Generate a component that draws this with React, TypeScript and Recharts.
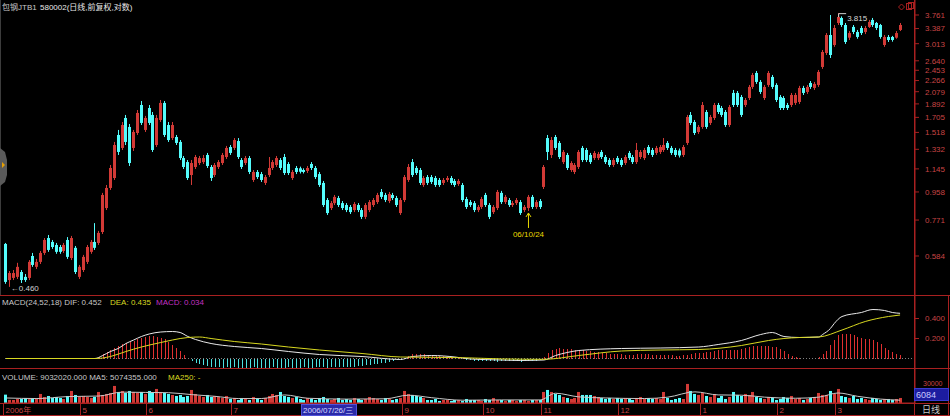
import { Bar, ComposedChart, Line, ReferenceDot, ReferenceLine, XAxis, YAxis } from "recharts";

const FONT = '"Liberation Sans", Arial, "Noto Sans CJK SC", sans-serif';
const UP = "#d23a36";
const DOWN = "#54fcfc";
const FRAME = "#a82020";
const AXIS_TEXT = "#c84444";

// daily candles [open, high, low, close], 前复权
const CANDLES: [number, number, number, number][] = [
    [0.641, 0.646, 0.471, 0.478], [0.485, 0.52, 0.46, 0.512], [0.493, 0.524, 0.485, 0.512], [0.497, 0.554, 0.489, 0.537],
    [0.516, 0.524, 0.474, 0.485], [0.497, 0.508, 0.478, 0.485], [0.493, 0.566, 0.485, 0.558], [0.584, 0.598, 0.537, 0.545],
    [0.537, 0.571, 0.528, 0.558], [0.558, 0.607, 0.549, 0.598], [0.598, 0.671, 0.589, 0.661], [0.671, 0.687, 0.603, 0.612],
    [0.651, 0.661, 0.617, 0.626], [0.636, 0.646, 0.594, 0.603], [0.626, 0.636, 0.594, 0.603], [0.607, 0.646, 0.598, 0.636],
    [0.661, 0.676, 0.571, 0.58], [0.575, 0.682, 0.566, 0.671], [0.622, 0.631, 0.508, 0.516], [0.497, 0.545, 0.489, 0.537],
    [0.524, 0.589, 0.516, 0.58], [0.558, 0.636, 0.549, 0.626], [0.603, 0.661, 0.594, 0.651], [0.651, 0.753, 0.612, 0.622],
    [0.646, 0.709, 0.636, 0.698], [0.703, 0.951, 0.692, 0.936], [0.846, 1.011, 0.833, 0.988], [0.988, 1.18, 0.973, 1.153],
    [1.067, 1.41, 1.051, 1.377], [1.488, 1.547, 1.275, 1.305], [1.346, 1.645, 1.325, 1.607], [1.697, 1.737, 1.377, 1.41],
    [1.583, 1.62, 1.171, 1.198], [1.346, 1.547, 1.315, 1.523], [1.511, 1.805, 1.488, 1.764], [1.876, 1.935, 1.607, 1.633],
    [1.547, 1.724, 1.523, 1.697], [1.833, 1.876, 1.607, 1.633], [1.737, 1.777, 1.305, 1.325], [1.377, 1.737, 1.356, 1.697],
    [1.671, 1.95, 1.645, 1.906], [1.906, 1.935, 1.465, 1.488], [1.607, 1.645, 1.41, 1.431], [1.453, 1.645, 1.431, 1.607],
    [1.465, 1.488, 1.377, 1.399], [1.41, 1.431, 1.226, 1.245], [1.245, 1.265, 1.144, 1.162], [1.207, 1.226, 1.051, 1.067],
    [1.092, 1.226, 1.011, 1.198], [1.162, 1.275, 1.144, 1.255], [1.198, 1.265, 1.18, 1.245], [1.207, 1.275, 1.189, 1.245],
    [1.275, 1.295, 1.153, 1.171], [1.162, 1.18, 1.043, 1.067], [1.092, 1.198, 1.075, 1.18], [1.162, 1.226, 1.144, 1.207],
    [1.198, 1.295, 1.18, 1.275], [1.255, 1.367, 1.236, 1.346], [1.356, 1.377, 1.275, 1.295], [1.346, 1.453, 1.325, 1.431],
    [1.42, 1.453, 1.236, 1.255], [1.226, 1.245, 1.144, 1.162], [1.198, 1.265, 1.18, 1.245], [1.245, 1.265, 1.1, 1.118],
    [1.051, 1.135, 1.035, 1.118], [1.118, 1.135, 1.059, 1.075], [1.1, 1.118, 1.035, 1.051], [1.027, 1.092, 1.011, 1.075],
    [1.092, 1.255, 1.075, 1.153], [1.153, 1.226, 1.135, 1.207], [1.18, 1.265, 1.162, 1.245], [1.226, 1.245, 1.135, 1.153],
    [1.255, 1.285, 1.092, 1.109], [1.189, 1.207, 1.092, 1.109], [1.067, 1.135, 1.051, 1.118], [1.153, 1.171, 1.1, 1.118],
    [1.15, 1.165, 1.105, 1.12], [1.135, 1.15, 1.105, 1.118], [1.127, 1.171, 1.109, 1.153], [1.189, 1.207, 1.135, 1.153],
    [1.153, 1.171, 1.059, 1.075], [1.1, 1.118, 0.996, 1.011], [1.027, 1.043, 0.853, 0.866], [0.9, 0.914, 0.802, 0.814],
    [0.846, 0.893, 0.833, 0.879], [0.879, 0.936, 0.866, 0.922], [0.914, 0.929, 0.853, 0.866], [0.879, 0.893, 0.833, 0.846],
    [0.866, 0.879, 0.82, 0.833], [0.853, 0.866, 0.808, 0.82], [0.833, 0.886, 0.82, 0.873], [0.866, 0.879, 0.82, 0.833],
    [0.833, 0.846, 0.777, 0.79], [0.79, 0.879, 0.777, 0.866], [0.833, 0.9, 0.82, 0.886], [0.866, 0.914, 0.853, 0.9],
    [0.886, 0.951, 0.873, 0.936], [0.958, 0.98, 0.907, 0.922], [0.936, 0.951, 0.886, 0.9], [0.893, 0.958, 0.879, 0.943],
    [0.936, 0.951, 0.9, 0.914], [0.914, 0.929, 0.853, 0.866], [0.814, 0.914, 0.802, 0.9], [0.9, 1.092, 0.886, 1.075],
    [1.051, 1.189, 1.035, 1.162], [1.207, 1.236, 1.075, 1.092], [1.153, 1.171, 1.092, 1.109], [1.135, 1.153, 1.011, 1.027],
    [1.011, 1.084, 0.996, 1.067], [1.075, 1.092, 1.011, 1.027], [1.075, 1.092, 1.019, 1.035], [1.067, 1.084, 0.996, 1.011],
    [1.051, 1.067, 0.996, 1.011], [1.027, 1.067, 1.011, 1.051], [1.051, 1.084, 1.035, 1.067], [1.067, 1.084, 1.011, 1.027],
    [1.043, 1.059, 0.996, 1.011], [1.019, 1.059, 1.004, 1.043], [1.011, 1.027, 0.886, 0.9], [0.907, 0.922, 0.84, 0.853],
    [0.886, 0.9, 0.853, 0.866], [0.879, 0.893, 0.82, 0.833], [0.833, 0.866, 0.82, 0.853], [0.853, 0.922, 0.84, 0.907],
    [0.936, 0.951, 0.853, 0.866], [0.866, 0.879, 0.777, 0.79], [0.82, 0.866, 0.808, 0.853], [0.846, 0.973, 0.833, 0.958],
    [0.951, 0.966, 0.873, 0.886], [0.886, 0.936, 0.873, 0.922], [0.9, 0.914, 0.853, 0.866], [0.866, 0.893, 0.853, 0.879],
    [0.879, 0.914, 0.866, 0.9], [0.886, 0.9, 0.802, 0.814], [0.833, 0.866, 0.82, 0.853], [0.846, 0.936, 0.827, 0.922],
    [0.922, 0.936, 0.84, 0.853], [0.853, 0.9, 0.84, 0.886], [0.893, 0.907, 0.84, 0.853], [0.996, 1.18, 0.98, 1.162],
    [1.453, 1.488, 1.226, 1.305], [1.275, 1.465, 1.245, 1.431], [1.465, 1.488, 1.325, 1.346], [1.399, 1.42, 1.236, 1.255],
    [1.207, 1.325, 1.189, 1.305], [1.275, 1.295, 1.135, 1.153], [1.135, 1.215, 1.118, 1.198], [1.118, 1.198, 1.1, 1.18],
    [1.162, 1.325, 1.144, 1.305], [1.346, 1.367, 1.207, 1.226], [1.325, 1.346, 1.207, 1.226], [1.275, 1.295, 1.189, 1.207],
    [1.245, 1.315, 1.226, 1.295], [1.245, 1.305, 1.226, 1.285], [1.305, 1.325, 1.236, 1.255], [1.255, 1.275, 1.189, 1.207],
    [1.226, 1.245, 1.162, 1.18], [1.18, 1.245, 1.162, 1.226], [1.245, 1.265, 1.189, 1.207], [1.226, 1.245, 1.162, 1.18],
    [1.198, 1.275, 1.18, 1.255], [1.295, 1.315, 1.226, 1.245], [1.255, 1.275, 1.189, 1.207], [1.207, 1.399, 1.189, 1.325],
    [1.255, 1.325, 1.236, 1.305], [1.245, 1.346, 1.226, 1.325], [1.356, 1.377, 1.275, 1.295], [1.325, 1.346, 1.255, 1.275],
    [1.295, 1.367, 1.275, 1.346], [1.305, 1.377, 1.285, 1.356], [1.325, 1.453, 1.305, 1.377], [1.399, 1.42, 1.325, 1.346],
    [1.346, 1.367, 1.275, 1.295], [1.325, 1.346, 1.255, 1.275], [1.32, 1.34, 1.25, 1.27], [1.275, 1.377, 1.255, 1.356],
    [1.399, 1.737, 1.377, 1.71], [1.737, 1.777, 1.607, 1.633], [1.645, 1.671, 1.488, 1.511], [1.523, 1.607, 1.5, 1.583],
    [1.583, 1.92, 1.56, 1.876], [1.777, 1.805, 1.56, 1.583], [1.633, 1.737, 1.607, 1.71], [1.697, 1.906, 1.671, 1.876],
    [1.876, 1.906, 1.75, 1.777], [1.833, 1.862, 1.71, 1.737], [1.777, 1.805, 1.583, 1.607], [1.607, 1.876, 1.583, 1.847],
    [2.059, 2.107, 1.847, 1.876], [2.059, 2.09, 1.847, 1.876], [1.996, 2.027, 1.71, 1.737], [1.876, 1.98, 1.847, 1.95],
    [1.98, 2.19, 1.95, 2.157], [2.157, 2.403, 2.124, 2.366], [2.403, 2.44, 2.208, 2.242], [2.242, 2.275, 2.043, 2.075],
    [1.98, 2.19, 1.95, 2.157], [2.19, 2.44, 2.157, 2.403], [2.33, 2.366, 2.124, 2.157], [2.19, 2.22, 1.92, 1.95],
    [1.996, 2.027, 1.805, 1.833], [1.98, 2.01, 1.805, 1.833], [1.876, 1.906, 1.805, 1.833], [1.876, 2.059, 1.847, 2.027],
    [1.906, 2.059, 1.876, 2.027], [1.92, 2.175, 1.89, 2.14], [2.14, 2.175, 2.027, 2.059], [2.075, 2.19, 2.043, 2.157],
    [2.224, 2.258, 2.124, 2.157], [2.14, 2.242, 2.107, 2.208], [2.19, 2.459, 2.157, 2.422], [2.517, 2.87, 2.48, 2.826],
    [2.804, 3.271, 2.761, 3.222], [3.222, 3.761, 2.698, 2.761], [2.983, 3.481, 2.94, 3.402], [3.536, 3.815, 3.481, 3.704],
    [3.676, 3.72, 3.43, 3.481], [3.481, 3.536, 3.007, 3.053], [3.156, 3.322, 3.1, 3.271], [3.43, 3.481, 3.245, 3.299],
    [3.299, 3.35, 3.13, 3.174], [3.402, 3.456, 3.222, 3.271], [3.299, 3.456, 3.245, 3.402], [3.43, 3.62, 3.402, 3.564],
    [3.62, 3.676, 3.43, 3.481], [3.536, 3.564, 3.35, 3.402], [3.481, 3.51, 3.13, 3.174], [2.983, 3.222, 2.94, 3.174],
    [3.174, 3.222, 3.053, 3.1], [3.174, 3.2, 3.06, 3.1], [3.156, 3.322, 3.13, 3.271], [3.35, 3.536, 3.322, 3.481],
];

// 成交量 (万股)
const VOLUMES: number[] = [
    1500, 560, 540, 720, 720, 900, 700, 880, 720, 1620,
    1080, 1260, 900, 1080, 900, 720, 1260, 2160,
    1440, 1080, 1260, 1080, 900, 1080, 1980, 1440, 1620,
    1800, 3060, 1980, 2160, 1800, 2160, 1980,
    1800, 1980, 1620, 2160, 1800, 2520, 1980, 1800, 1620, 1440, 1260, 1440,
    1080, 1260, 2340, 1620, 1260, 1080,
    1440, 1080, 1260, 1080, 900, 1260,
    720, 900, 540, 900, 720, 540, 1080, 720, 540,
    900, 1260, 1620, 1440, 1980, 1260, 1080, 900, 1080,
    720, 540, 900, 720, 540, 900, 1080, 720, 540, 720, 900, 540, 720, 540, 900, 720, 540, 720, 1080, 900, 720, 540, 900, 720, 540,
    720, 900, 2160, 1620, 1440, 1260, 1080, 900,
    540, 540, 720, 360, 540, 540, 360, 540, 540, 360, 720, 540, 540, 540, 360, 720, 540, 900, 540, 540, 360, 540, 540, 360, 540, 540, 360, 540, 540, 540,
    1980, 2340, 1980, 1620, 1440, 1080, 900, 720, 900, 1980, 1440, 1440, 1440, 1260,
    1080, 900, 720, 900, 720, 900, 720, 900, 720, 540, 900, 1080, 720, 900, 720, 900, 720, 1980, 900, 540, 720, 900, 720,
    3420, 2160, 1620, 1440, 1800, 1260, 1080, 1620, 900, 1260, 720, 1080, 1980, 1440,
    1260, 1620, 1440, 1980, 1080, 900, 720, 1080, 900, 540, 720, 1080, 900, 1260, 720, 900, 540, 720, 900, 1080,
    1800, 1440, 1440, 2160, 1620, 2520, 1260, 1080, 900, 1260, 720, 900, 720, 540, 900, 720, 540, 720, 720, 540, 720, 903,
];

// MA5 of volume, read at [candle index, value]
const VOLUME_MA5: [number, number][] = [
    [0, 900], [8, 800], [16, 1150], [24, 1250], [30, 1950], [36, 1900], [42, 1850], [48, 1500], [54, 1200],
    [60, 800], [66, 800], [72, 1450], [78, 850], [88, 700], [98, 750], [104, 1400], [110, 950], [118, 500],
    [128, 550], [138, 550], [142, 1750], [148, 1100], [155, 900], [165, 800], [171, 1050], [178, 2000],
    [184, 1450], [190, 1400], [196, 1050], [204, 850], [210, 1050], [215, 1800], [220, 1200], [226, 700], [231, 507],
];

// MACD(24,52,18) histogram per candle
const MACD_BARS: number[] = [
    0, 0, 0, 0, 0, 0, 0, 0, 0, 0, 0, 0, 0, 0, 0, 0, 0, 0, 0, 0, 0, 0, 0, 0,
    0.02, 0.05, 0.07, 0.09, 0.11, 0.13, 0.15, 0.16, 0.17, 0.18, 0.2, 0.21, 0.22, 0.23, 0.23, 0.22, 0.21, 0.2, 0.17, 0.14, 0.11, 0.08, 0.04, 0.01,
    -0.02, -0.04, -0.05, -0.06, -0.07,
    -0.08, -0.085, -0.08, -0.09, -0.085, -0.09, -0.085, -0.09,
    -0.09, -0.095, -0.09, -0.085, -0.09, -0.095, -0.09, -0.09, -0.085, -0.09, -0.095, -0.09, -0.085, -0.09, -0.09,
    -0.09, -0.085, -0.09, -0.09, -0.085, -0.08, -0.085, -0.09, -0.085, -0.08, -0.085, -0.08, -0.08, -0.085, -0.08,
    -0.075, -0.07, -0.065, -0.06, -0.055, -0.05,
    -0.045, -0.04, -0.03, -0.02, -0.015, -0.01,
    0.01, 0.03, 0.045, 0.05, 0.05, 0.045, 0.04, 0.035, 0.03, 0.03, 0.025, 0.02, 0.02, 0.015, 0.01, 0.01,
    -0.01, -0.015, -0.02, -0.02, -0.025, -0.02, -0.02, -0.025, -0.03, -0.025, -0.02, -0.02, -0.025, -0.025, -0.03, -0.025, -0.02, -0.02, -0.02, -0.015,
    0.02, 0.06, 0.09, 0.1, 0.105, 0.1, 0.1, 0.095, 0.09, 0.09, 0.085, 0.08, 0.075, 0.07,
    0.065, 0.06, 0.055, 0.05, 0.05, 0.045, 0.045, 0.04, 0.04, 0.04, 0.045, 0.05, 0.05, 0.045, 0.04, 0.04, 0.035, 0.035, 0.04, 0.035, 0.03, 0.03, 0.035, 0.04, 0.05, 0.055,
    0.055, 0.06, 0.065, 0.07, 0.075, 0.085, 0.085, 0.085, 0.085, 0.09, 0.09, 0.1, 0.105, 0.115, 0.125, 0.13, 0.13, 0.13, 0.13, 0.12,
    0.115, 0.1, 0.08, 0.05, 0.03, 0.015, 0.005, 0, 0, 0, 0.005, 0.02, 0.05, 0.08, 0.14, 0.19, 0.235, 0.25, 0.25, 0.245,
    0.235, 0.22, 0.21, 0.2, 0.2, 0.19, 0.17, 0.15, 0.11, 0.085, 0.07, 0.045, 0.034,
];

const DIF_LINE: [number, number][] = [
    [0, 0], [12, 0], [23, 0], [25, 0.03], [27, 0.07], [29, 0.1], [31, 0.15], [33, 0.185], [35, 0.22], [37, 0.245],
    [40, 0.265], [43, 0.27], [45, 0.26], [47, 0.22], [49, 0.19], [53, 0.15], [59, 0.12], [66, 0.1], [73, 0.07],
    [81, 0.04], [92, 0.02], [102, -0.01], [105, 0.02], [110, 0.03], [116, 0.015], [120, -0.005], [128, -0.015],
    [133, -0.02], [139, -0.015], [142, 0.03], [145, 0.06], [148, 0.08], [159, 0.1], [169, 0.105], [179, 0.115],
    [184, 0.14], [190, 0.18], [195, 0.24], [198, 0.26], [201, 0.22], [205, 0.21], [210, 0.215], [211, 0.24],
    [213, 0.3], [214, 0.35], [216, 0.42], [221, 0.46], [224, 0.49], [227, 0.48], [229, 0.46], [231, 0.452],
];

const DEA_LINE: [number, number][] = [
    [0, 0], [12, 0], [23, 0], [25, 0.005], [27, 0.02], [31, 0.07], [35, 0.115], [40, 0.16], [43, 0.185], [47, 0.21],
    [50, 0.215], [53, 0.2], [59, 0.17], [66, 0.145], [73, 0.115], [81, 0.085], [92, 0.05], [102, 0.015], [110, 0.012],
    [118, 0.008], [128, -0.004], [139, -0.008], [148, 0.03], [159, 0.075], [169, 0.085], [179, 0.09], [190, 0.13],
    [197, 0.18], [201, 0.2], [205, 0.21], [210, 0.215], [216, 0.285], [222, 0.37], [228, 0.42], [231, 0.435],
];

const PRICE_TICKS = [0.584, 0.771, 0.958, 1.145, 1.332, 1.518, 1.705, 1.892, 2.079, 2.266, 2.453, 2.64, 3.013, 3.387, 3.761];
const MACD_TICKS = [0.2, 0.4];
const MONTH_TICKS = [
    { index: 0, label: "2006年" }, { index: 20, label: "5" }, { index: 37, label: "6" }, { index: 59, label: "7" },
    { index: 103, label: "9" }, { index: 124, label: "10" }, { index: 139, label: "11" }, { index: 159, label: "12" },
    { index: 180, label: "1" }, { index: 200, label: "2" }, { index: 215, label: "3" },
];
const LOW_INDEX = 1;
const HIGH_INDEX = 215;
const DATE_MARK = { index: 135, label: "06/10/24" };

const difMap = new Map(DIF_LINE);
const deaMap = new Map(DEA_LINE);
const maMap = new Map(VOLUME_MA5);
const monthMap = new Map(MONTH_TICKS.map((t) => [t.index, t.label]));

const priceData = CANDLES.map(([o, h, l, c], i) => ({ i, o, h, l, c, range: [l, h] }));
const macdData = MACD_BARS.map((m, i) => ({ i, hist: m, dif: difMap.get(i) ?? null, dea: deaMap.get(i) ?? null }));
const volData = VOLUMES.map((v, i) => ({ i, vol: v, up: CANDLES[i][3] >= CANDLES[i][0], ma5: maMap.get(i) ?? null }));

const MARGIN = { top: 0, right: 0, bottom: 0, left: 4 };
const X_PAD = { left: 0, right: 13 };

function Candle(props: any) {
    const { x, y, width, height, payload } = props;
    if (x == null || !payload) return null;
    const top = Math.min(y, y + height);
    const h = Math.abs(height);
    const lh = Math.log(payload.h);
    const span = lh - Math.log(payload.l) || 1;
    const toY = (v: number) => top + ((lh - Math.log(v)) / span) * h;
    const up = payload.c >= payload.o;
    const bTop = toY(Math.max(payload.o, payload.c));
    const bBot = toY(Math.min(payload.o, payload.c));
    const left = Math.round(x + width / 2 - 1.5);
    const color = up ? UP : DOWN;
    return (
        <g>
            <line x1={left + 1.5} x2={left + 1.5} y1={top} y2={top + h} stroke={color} strokeWidth={1} />
            <rect x={left} y={bTop} width={3} height={Math.max(1, bBot - bTop)} fill={color} />
        </g>
    );
}

function HistBar(props: any) {
    const { x, y, width, height, payload } = props;
    if (x == null || !payload || !height) return null;
    const left = Math.round(x + width / 2);
    const y1 = Math.min(y, y + height);
    return (
        <rect
            x={left}
            y={y1}
            width={1}
            height={Math.abs(height)}
            fill={payload.hist >= 0 ? "#e03030" : "#4ce0e0"}
            stroke="none"
            shapeRendering="crispEdges"
        />
    );
}

function VolBar(props: any) {
    const { x, y, width, height, payload } = props;
    if (x == null || !payload) return null;
    const left = Math.round(x + width / 2 - 1.5);
    return <rect x={left} y={Math.min(y, y + height)} width={3} height={Math.abs(height)} fill={payload.up ? UP : DOWN} />;
}

function MonthTick(props: any) {
    const { x, y, payload } = props;
    const lx = Math.max(0.5, Math.round(x - 3) + 0.5);
    return (
        <g>
            <line x1={lx} x2={lx} y1={y} y2={y + 13} stroke={FRAME} />
            <text x={lx + 2} y={y + 10} fill={AXIS_TEXT} fontSize={8} fontFamily={FONT}>
                {monthMap.get(payload.value)}
            </text>
        </g>
    );
}

export default function App() {
    const yTick = { fill: AXIS_TEXT, fontSize: 8, fontFamily: FONT };
    return (
        <div style={{ position: "absolute", left: 0, top: 0, width: 950, height: 416, background: "#000", overflow: "hidden" }}>
            <div style={{ position: "absolute", left: 0, top: 0 }}>
                <ComposedChart width={950} height={296} data={priceData} margin={MARGIN} barCategoryGap="10%">
                    <XAxis dataKey="i" hide padding={X_PAD} />
                    <YAxis
                        orientation="right"
                        type="number"
                        scale="log"
                        domain={[0.4287, 4.223]}
                        allowDataOverflow
                        ticks={PRICE_TICKS}
                        interval={0}
                        width={35}
                        tick={yTick}
                        tickFormatter={(v: number) => v.toFixed(3)}
                        tickSize={4}
                        tickMargin={6}
                        axisLine={{ stroke: FRAME }}
                        tickLine={{ stroke: FRAME }}
                    />
                    <Bar dataKey="range" isAnimationActive={false} shape={(p: any) => <Candle {...p} />} />
                    <ReferenceDot
                        x={LOW_INDEX}
                        y={CANDLES[LOW_INDEX][2]}
                        shape={(p: any) => (
                            <text x={p.cx + 1} y={p.cy + 4} fill="#d0d0d0" fontSize={8} fontFamily={FONT}>
                                ←{CANDLES[LOW_INDEX][2].toFixed(3)}
                            </text>
                        )}
                    />
                    <ReferenceDot
                        x={HIGH_INDEX}
                        y={CANDLES[HIGH_INDEX][1]}
                        shape={(p: any) => (
                            <g>
                                <path d={`M${p.cx + 0.5},${p.cy + 4} V${p.cy + 0.5} H${p.cx + 8}`} stroke="#d0d0d0" fill="none" />
                                <text x={p.cx + 9} y={p.cy + 8} fill="#d8d8d8" fontSize={8} fontFamily={FONT}>
                                    {CANDLES[HIGH_INDEX][1].toFixed(3)}
                                </text>
                            </g>
                        )}
                    />
                    <ReferenceDot
                        x={DATE_MARK.index}
                        y={CANDLES[DATE_MARK.index][2]}
                        shape={(p: any) => (
                            <g stroke="#e8d800" fill="none">
                                <line x1={p.cx} x2={p.cx} y1={p.cy + 2} y2={p.cy + 17} />
                                <path d={`M${p.cx - 2.5},${p.cy + 6} L${p.cx},${p.cy + 2} L${p.cx + 2.5},${p.cy + 6}`} />
                                <text x={p.cx} y={p.cy + 26} fill="#e8d800" stroke="none" fontSize={8} fontFamily={FONT} textAnchor="middle">
                                    {DATE_MARK.label}
                                </text>
                            </g>
                        )}
                    />
                </ComposedChart>
            </div>

            <div style={{ position: "absolute", left: 0, top: 296 }}>
                <ComposedChart width={950} height={73} data={macdData} margin={MARGIN} barCategoryGap="10%">
                    <XAxis dataKey="i" hide padding={X_PAD} />
                    <YAxis
                        orientation="right"
                        type="number"
                        domain={[-0.105, 0.625]}
                        allowDataOverflow
                        ticks={MACD_TICKS}
                        interval={0}
                        width={35}
                        tick={yTick}
                        tickFormatter={(v: number) => v.toFixed(3)}
                        tickSize={4}
                        tickMargin={6}
                        axisLine={{ stroke: FRAME }}
                        tickLine={{ stroke: FRAME }}
                    />
                    <ReferenceLine y={0} stroke="#808080" strokeDasharray="1 2" />
                    <Bar dataKey="hist" isAnimationActive={false} shape={(p: any) => <HistBar {...p} />} />
                    <Line dataKey="dif" type="monotone" stroke="#e8e8e8" strokeWidth={1} dot={false} connectNulls isAnimationActive={false} />
                    <Line dataKey="dea" type="monotone" stroke="#d8d820" strokeWidth={1} dot={false} connectNulls isAnimationActive={false} />
                </ComposedChart>
            </div>

            <div style={{ position: "absolute", left: 0, top: 369 }}>
                <ComposedChart width={950} height={47} data={volData} margin={MARGIN} barCategoryGap="10%">
                    <XAxis
                        dataKey="i"
                        padding={X_PAD}
                        height={13}
                        ticks={MONTH_TICKS.map((t) => t.index)}
                        interval={0}
                        tick={(p: any) => <MonthTick {...p} />}
                        tickLine={false}
                        tickSize={0}
                        tickMargin={0}
                        axisLine={{ stroke: FRAME }}
                    />
                    <YAxis orientation="right" type="number" domain={[0, 6100]} allowDataOverflow width={35} tick={false} tickLine={false} axisLine={{ stroke: FRAME }} />
                    <Bar dataKey="vol" isAnimationActive={false} shape={(p: any) => <VolBar {...p} />} />
                    <Line dataKey="ma5" type="monotone" stroke="#c8c8c8" strokeWidth={1} dot={false} connectNulls isAnimationActive={false} />
                </ComposedChart>
            </div>

            <svg width={950} height={416} style={{ position: "absolute", left: 0, top: 0, pointerEvents: "none" }} fontFamily={FONT}>
                <g stroke={FRAME} strokeWidth={1}>
                    <line x1={0} x2={950} y1={295.5} y2={295.5} />
                    <line x1={0} x2={950} y1={368.5} y2={368.5} />
                    <line x1={0} x2={950} y1={403.5} y2={403.5} />
                    <line x1={0} x2={950} y1={415.5} y2={415.5} />
                    <line x1={914.5} x2={914.5} y1={0} y2={416} />
                    <line x1={948.5} x2={948.5} y1={296} y2={416} />
                </g>
                <line x1={0.5} x2={0.5} y1={0} y2={295} stroke="#3c3c3c" />
                <path d="M0,148 L5,152 L7,160 L7,175 L5,182 L0,186 Z" fill="#5a5a5a" />
                <path d="M2,162 L5,165 L2,168 Z" fill="#e8a000" />

                <text x={2} y={10} fontSize={8} fill="#c8c8c8">包钢JTB1</text>
                <text x={40} y={10} fontSize={8} fill="#e8e8e8">580002(日线,前复权,对数)</text>
                <g stroke={FRAME} fill="none">
                    <path d="M898.5,7 L901.5,4 L904.5,7 L901.5,10 Z" />
                    <rect x={906.5} y={3.5} width={5} height={6} />
                    <rect x={908.5} y={2.5} width={5} height={6} />
                </g>

                <text y={305} fontSize={8}>
                    <tspan x={2} fill="#c8c8c8">MACD(24,52,18) DIF: 0.452</tspan>
                    <tspan x={110} fill="#d8d820">DEA: 0.435</tspan>
                    <tspan x={156} fill="#c030c0">MACD: 0.034</tspan>
                </text>
                <text y={380} fontSize={8}>
                    <tspan x={2} fill="#c8c8c8">VOLUME: 9032020.000  MA5: 5074355.000</tspan>
                    <tspan x={168} fill="#d8d820">MA250: -</tspan>
                </text>

                <text x={923} y={386} fontSize={7} fill={AXIS_TEXT}>30000</text>
                <rect x={914.5} y={388.5} width={34} height={12} fill="#1c1ca0" stroke="#3a3ad0" />
                <text x={916} y={398} fontSize={9} fill="#c8c8ff">6084</text>

                <rect x={301.5} y={404.5} width={55} height={11} fill="#2a2aa8" stroke="#5050d8" />
                <text x={303} y={413} fontSize={8} fill="#d8d8ff">2006/07/26/三</text>
                <text x={922} y={413} fontSize={9} fill="#c8c8c8">日线</text>
            </svg>
        </div>
    );
}
